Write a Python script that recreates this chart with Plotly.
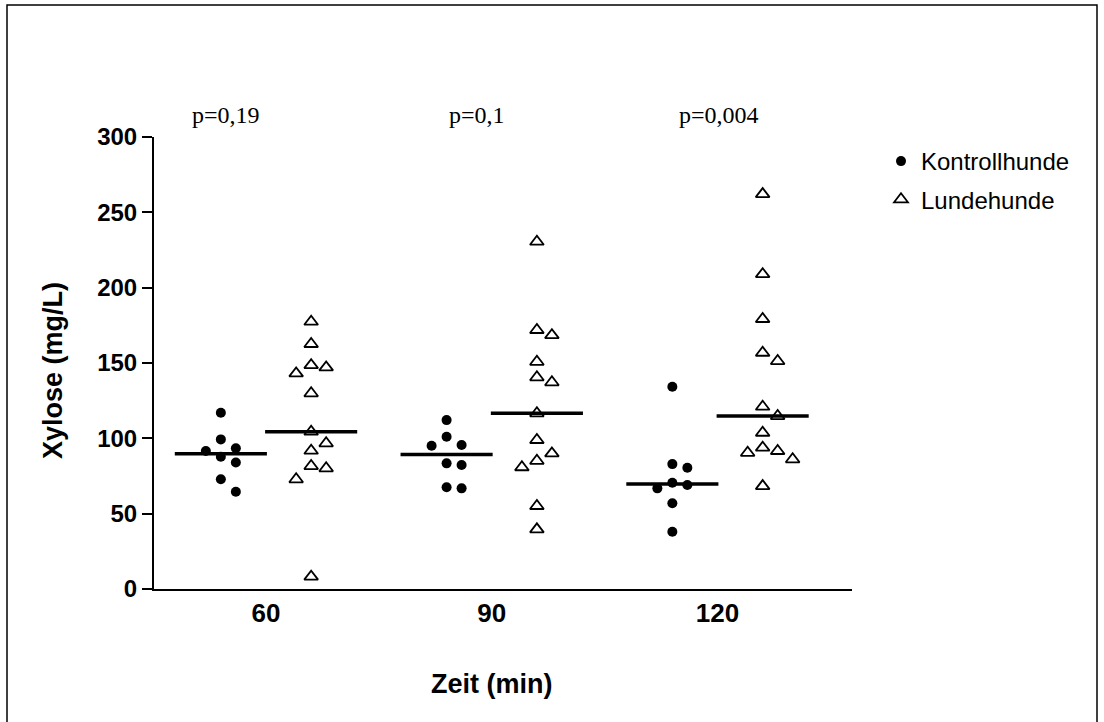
import numpy as np
import plotly.graph_objects as go

# ---------------- data ----------------
times = ["60", "90", "120"]
kontroll_60 = [117.0, 99.3, 93.4, 91.6, 87.8, 84.0, 72.8, 64.6]
kontroll_90 = [112.1, 101.1, 95.6, 95.1, 83.4, 82.3, 67.5, 66.8]
kontroll_120 = [134.2, 82.9, 80.5, 70.5, 69.0, 66.8, 56.9, 38.0]
lunde_60 = [177.4, 162.6, 148.6, 147.1, 143.1, 129.9, 104.4, 96.7, 91.8, 81.6, 80.1, 72.8, 8.2]
lunde_90 = [230.5, 171.9, 168.5, 150.8, 140.5, 137.2, 116.6, 98.9, 90.0, 85.1, 80.8, 55.1, 39.6]
lunde_120 = [262.1, 209.0, 179.2, 156.8, 151.3, 121.0, 114.8, 103.7, 93.8, 91.6, 90.4, 86.1, 68.3]
p_values = ["p=0,19", "p=0,1", "p=0,004"]

kontroll = [kontroll_60, kontroll_90, kontroll_120]
lunde = [lunde_60, lunde_90, lunde_120]

# ---------------- geometry ----------------
W, H = 1104, 722
ML, MR, MT, MB = 154, 252, 137, 133
PW, PH = W - ML - MR, H - MT - MB
YMAX = 300
GROUP_PX = 225.75
X0 = -(266 - ML) / GROUP_PX
X1 = X0 + PW / GROUP_PX
OFF = 0.2
HALF = 0.204
STEP = 15 / GROUP_PX


def px2paper(px, py):
    return (px - ML) / PW, (H - MB - py) / PH


def swarm(vals, gap_px=14):
    ppu = PH / YMAX
    placed = []
    order = sorted(range(len(vals)), key=lambda i: -vals[i])
    res = [0] * len(vals)
    for i in order:
        y = vals[i] * ppu
        for c in [0, 1, -1, 2, -2, 3, -3]:
            if all(not (pc == c and abs(py - y) < gap_px) for pc, py in placed):
                break
        placed.append((c, y))
        res[i] = c
    return res


fig = go.Figure()


def add_series(groups, off, name, symbol, size, line_w):
    xs, ys = [], []
    for gi, vals in enumerate(groups):
        cols = swarm(vals)
        xs += [gi + off + c * STEP for c in cols]
        ys += list(vals)
    fig.add_trace(go.Scatter(
        x=xs, y=ys, mode="markers", name=name, legendgroup=name,
        marker=dict(symbol=symbol, size=size, color="black",
                    line=dict(color="black", width=line_w)),
    ))
    for gi, vals in enumerate(groups):
        m = float(np.median(vals))
        c = gi + off
        fig.add_trace(go.Scatter(
            x=[c - HALF, c + HALF], y=[m, m], mode="lines",
            line=dict(color="black", width=3.5), showlegend=False,
            hoverinfo="skip",
        ))


add_series(kontroll, -OFF, "Kontrollhunde", "circle", 10, 0)
add_series(lunde, OFF, "Lundehunde", "triangle-up-open", 12, 1.8)

annotations = []
for txt, (px, py) in zip(p_values, [(226, 115), (477, 115), (719, 115)]):
    x, y = px2paper(px, py)
    annotations.append(dict(x=x, y=y, xref="paper", yref="paper", text=txt,
                            showarrow=False, xanchor="center", yanchor="middle",
                            font=dict(family="Liberation Serif, Times New Roman, serif",
                                      size=24, color="black")))

x, y = px2paper(53, 371)
annotations.append(dict(x=x, y=y, xref="paper", yref="paper",
                        text="<b>Xylose (mg/L)</b>", textangle=-90, showarrow=False,
                        xanchor="center", yanchor="middle",
                        font=dict(family="Liberation Sans, Arial, sans-serif", size=27, color="black")))
x, y = px2paper(492, 684)
annotations.append(dict(x=x, y=y, xref="paper", yref="paper",
                        text="<b>Zeit (min)</b>", showarrow=False,
                        xanchor="center", yanchor="middle",
                        font=dict(family="Liberation Sans, Arial, sans-serif", size=27, color="black")))

# frame
fx0, fy0 = px2paper(7, 5)
fx1, fy1 = px2paper(1097, 730)
shapes = [dict(type="rect", xref="paper", yref="paper", x0=fx0, x1=fx1, y0=fy1, y1=fy0,
               line=dict(color="black", width=1.5), layer="below")]

lx, ly = px2paper(881, 139)

fig.update_layout(
    width=W, height=H,
    margin=dict(l=ML, r=MR, t=MT, b=MB, pad=0),
    paper_bgcolor="white", plot_bgcolor="white",
    font=dict(family="Liberation Sans, Arial, sans-serif", color="black"),
    showlegend=True,
    legend=dict(x=lx, y=ly, xanchor="left", yanchor="top",
                font=dict(size=24, family="Liberation Sans, Arial, sans-serif"),
                tracegroupgap=4, bgcolor="rgba(0,0,0,0)"),
    xaxis=dict(range=[X0, X1], tickvals=[0, 1, 2], ticktext=times,
               showline=True, linecolor="black", linewidth=2, ticks="",
               showgrid=False, zeroline=False,
               tickfont=dict(size=26, weight="bold", color="black"),
               ticklabelstandoff=0),
    yaxis=dict(range=[0, YMAX], tickvals=[0, 50, 100, 150, 200, 250, 300],
               showline=True, linecolor="black", linewidth=2,
               ticks="outside", ticklen=10, tickwidth=2, tickcolor="black",
               showgrid=False, zeroline=False,
               tickfont=dict(size=24, weight="bold", color="black")),
    annotations=annotations,
    shapes=shapes,
)

fig.write_html("out.html", config={"displayModeBar": False},
               post_script="document.body.style.margin='0';document.body.style.padding='0';")
